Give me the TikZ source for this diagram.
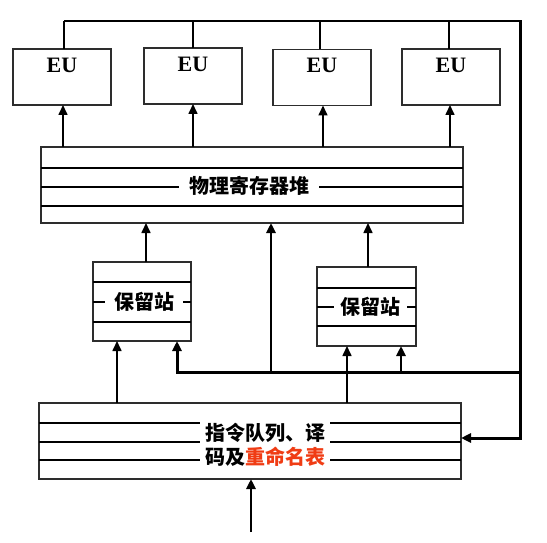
\documentclass[tikz,border=0pt]{standalone}
\usepackage{fontspec}
\setmainfont{Liberation Serif}
\newfontfamily\cjk{Noto Sans CJK SC}
\usetikzlibrary{arrows.meta,calc}
\definecolor{rename}{RGB}{240,60,20}
\definecolor{boxline}{RGB}{45,45,45}
\begin{document}
\begin{tikzpicture}[x=1pt,y=-1pt,
  box/.style={draw=boxline, line width=1.1pt, inner sep=0pt, outer sep=0pt},
  eubox/.style={box, minimum width=98pt, minimum height=56pt},
  rsbox/.style={box, minimum width=98pt, minimum height=79pt},
  widebox/.style={box, minimum width=422pt, minimum height=76pt},
  eutext/.style={font=\fontsize{22}{22}\selectfont\bfseries, inner sep=0pt},
  cjktext/.style={font=\cjk\bfseries\fontsize{20}{24}\selectfont, fill=white, inner ysep=1pt},
  row/.style={draw=black, line width=1.1pt},
  link/.style={line width=1.2pt},
  arr/.style={line width=1.6pt, -{Triangle[length=10pt,width=9pt]}},
  thickarr/.style={line width=2.6pt, -{Triangle[length=10pt,width=9pt]}},
]
\useasboundingbox (0,0) rectangle (547,543);

% EU boxes
\node[eubox] (eu1) at (62,77) {};
\node[eubox] (eu2) at (193,76) {};
\node[eubox] (eu3) at (322,77.5) {};
\node[eubox] (eu4) at (451,77) {};
\node[eutext] (eu1t) at ([yshift=-16pt]eu1.north) {EU};
\node[eutext] (eu2t) at ([yshift=-16pt]eu2.north) {EU};
\node[eutext] (eu3t) at ([yshift=-16pt]eu3.north) {EU};
\node[eutext] (eu4t) at ([yshift=-16pt]eu4.north) {EU};

% register file
\node[widebox] (reg) at (252,185) {};
\draw[row] (41,168) -- (463,168);
\draw[row] (41,187) -- (463,187);
\draw[row] (41,206) -- (463,206);
\node[cjktext, inner xsep=10pt] (regt) at (249,186) {物理寄存器堆};

% reservation stations
\node[rsbox] (rs1) at (142,301.5) {};
\draw[row] (93,282) -- (191,282);
\draw[row] (93,302) -- (191,302);
\draw[row] (93,322) -- (191,322);
\node[cjktext, inner xsep=9pt] (rs1t) at (144,302) {保留站};

\node[rsbox, minimum width=99pt] (rs2) at (366.5,306.5) {};
\draw[row] (317,288) -- (416,288);
\draw[row] (317,307) -- (416,307);
\draw[row] (317,326) -- (416,326);
\node[cjktext, inner xsep=6.5pt] (rs2t) at (370.5,307) {保留站};

% instruction queue
\node[widebox] (q) at (250,441) {};
\draw[row] (39,423) -- (461,423);
\draw[row] (39,442) -- (461,442);
\draw[row] (39,460) -- (461,460);
\node[cjktext, inner xsep=5pt, inner ysep=3pt, align=center] (qt) at (265,445)
  {指令队列、译\\码及\textcolor{rename}{重命名表}};

% coordinates
\coordinate (tr) at (520,21);
\coordinate (qin) at (520,438);
\coordinate (busR) at (520,372);
\coordinate (in) at (251,532);

% EU result links to top bus
\draw[link] ([xshift=2pt]eu1.north) -- ([xshift=2pt]eu1.north |- tr);
\draw[link] (eu2.north) -- (eu2.north |- tr);
\draw[link] ([xshift=-2pt]eu3.north) -- ([xshift=-2pt]eu3.north |- tr);
\draw[link] ([xshift=-2pt]eu4.north) -- ([xshift=-2pt]eu4.north |- tr);
\draw[line width=2.4pt] ([xshift=2pt]eu1.north |- tr) -- ([xshift=1.5pt]tr);
\draw[thickarr, line width=3pt] (tr) |- (q.east |- qin);

% register file to EUs
\draw[arr] ([xshift=1pt]eu1.south |- reg.north) -- ([xshift=1pt]eu1.south);
\draw[arr] (eu2.south |- reg.north) -- (eu2.south);
\draw[arr] ([xshift=1pt]eu3.south |- reg.north) -- ([xshift=1pt]eu3.south);
\draw[arr] ([xshift=-1pt]eu4.south |- reg.north) -- ([xshift=-1pt]eu4.south);

% reservation stations to register file
\draw[arr] ([xshift=4pt]rs1.north) -- ([xshift=4pt]rs1.north |- reg.south);
\draw[arr] ([xshift=1.5pt]rs2.north) -- ([xshift=1.5pt]rs2.north |- reg.south);

% bus
\draw[thickarr, line width=3pt] (busR) -| ([xshift=35pt]rs1.south);
\draw[thickarr, line width=2.8pt] ([xshift=34.5pt]rs2.south |- busR) -- ([xshift=34.5pt]rs2.south);
\draw[thickarr, line width=2.5pt] ([xshift=19pt]reg.south |- busR) -- ([xshift=19pt]reg.south);

% queue to reservation stations
\draw[arr] ([xshift=-25pt]rs1.south |- q.north) -- ([xshift=-25pt]rs1.south);
\draw[arr] ([xshift=-19.5pt]rs2.south |- q.north) -- ([xshift=-19.5pt]rs2.south);

% input
\draw[thickarr, line width=2.5pt] (in) -- (in |- q.south);
\end{tikzpicture}
\end{document}
